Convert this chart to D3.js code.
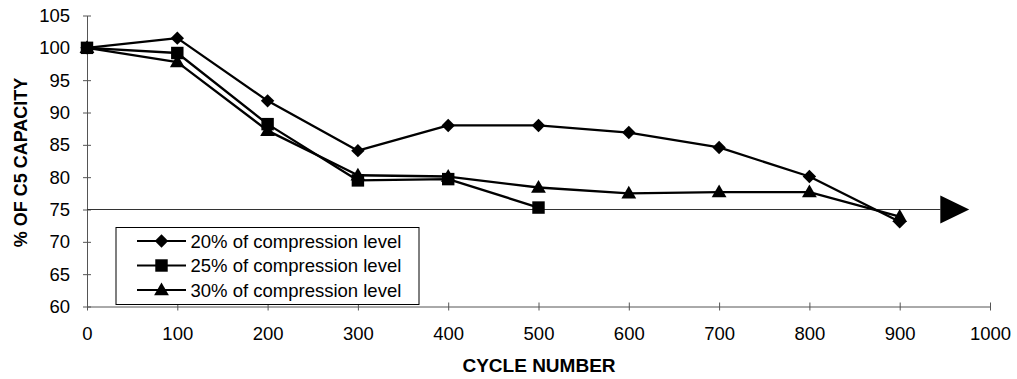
<!DOCTYPE html>
<html>
<head>
<meta charset="utf-8">
<script src="https://cdn.jsdelivr.net/npm/d3@7"></script>
<style>
  html, body { margin: 0; padding: 0; background: #fff; }
  svg { display: block; font-family: "Liberation Sans", Arial, sans-serif; }
</style>
</head>
<body>
<svg id="chart" width="1017" height="379"></svg>
<script>
const cycles = [0, 100, 200, 300, 400, 500, 600, 700, 800, 900];
const s20 = [100, 101.5, 91.8, 84.1, 88.0, 88.0, 86.9, 84.6, 80.1, 73.1];
const s25 = [100, 99.2, 88.2, 79.5, 79.7, 75.3];
const s30 = [100, 97.8, 87.2, 80.3, 80.1, 78.4, 77.5, 77.7, 77.7, 73.9];
const seriesNames = ["20% of compression level", "25% of compression level", "30% of compression level"];
const seriesSymbols = ["diamond", "square", "triangle"];
const xTicks = [0, 100, 200, 300, 400, 500, 600, 700, 800, 900, 1000];
const yTicks = [60, 65, 70, 75, 80, 85, 90, 95, 100, 105];
const refLevel = 75;
const arrowBase = 945, arrowTip = 977;

const svg = d3.select("#chart");
const x = d3.scaleLinear().domain([0, 1000]).range([87, 990]);
const y = d3.scaleLinear().domain([60, 105]).range([306.5, 15.5]);

// axes
const yAxis = svg.append("g").attr("transform", `translate(${x(0)},0)`)
  .call(d3.axisLeft(y).tickValues(yTicks).tickFormat(d3.format("d")).tickSize(4).tickSizeOuter(0).tickPadding(13));
yAxis.select(".domain").attr("stroke", "#555");
yAxis.selectAll(".tick line").attr("x1", 4).attr("x2", -4).attr("stroke", "#555");
yAxis.selectAll(".tick text").attr("font-size", 18.5).attr("fill", "#000")
  .attr("font-family", "Liberation Sans, Arial, sans-serif");

const xAxis = svg.append("g").attr("transform", `translate(0,${y(60)})`)
  .call(d3.axisBottom(x).tickValues(xTicks).tickFormat(d3.format("d")).tickSize(4).tickSizeOuter(0).tickPadding(16.5));
xAxis.select(".domain").attr("stroke", "#555");
xAxis.selectAll(".tick line").attr("y1", -4).attr("y2", 4).attr("stroke", "#555");
xAxis.selectAll(".tick text").attr("font-size", 18.5).attr("fill", "#000")
  .attr("font-family", "Liberation Sans, Arial, sans-serif");

// axis titles
svg.append("text").attr("x", 539).attr("y", 371.5).attr("text-anchor", "middle")
  .attr("font-size", 19).attr("font-weight", "bold").text("CYCLE NUMBER");
svg.append("text").attr("transform", `translate(27,162.5) rotate(-90)`)
  .attr("text-anchor", "middle").attr("font-size", 18).attr("font-weight", "bold")
  .text("% OF C5 CAPACITY");

// reference line with arrow
svg.append("line").attr("x1", x(0)).attr("x2", x(arrowBase))
  .attr("y1", y(refLevel)).attr("y2", y(refLevel))
  .attr("stroke", "#333").attr("stroke-width", 1);
svg.append("path")
  .attr("d", `M${x(arrowBase)},${y(refLevel) - 14}L${x(arrowTip)},${y(refLevel)}L${x(arrowBase)},${y(refLevel) + 14}Z`)
  .attr("fill", "#000");

// series
const symbolMap = {
  diamond: d3.symbol().type(d3.symbolSquare).size(90),
  square: d3.symbol().type(d3.symbolSquare).size(155),
  triangle: d3.symbol().type(d3.symbolTriangle).size(95)
};
function symbolPath(kind) { return symbolMap[kind](); }
function symbolTransform(kind, px, py) {
  if (kind === "diamond") return `translate(${px},${py}) rotate(45)`;
  if (kind === "triangle") return `translate(${px},${py + 1})`;
  return `translate(${px},${py})`;
}

const allSeries = [s20, s25, s30];
const line = d3.line().x(d => x(d[0])).y(d => y(d[1]));
allSeries.forEach((vals, i) => {
  const pts = vals.map((v, j) => [cycles[j], v]);
  svg.append("path").datum(pts).attr("d", line)
    .attr("fill", "none").attr("stroke", "#000").attr("stroke-width", 2.3)
    .attr("stroke-linejoin", "round");
});
allSeries.forEach((vals, i) => {
  const kind = seriesSymbols[i];
  vals.forEach((v, j) => {
    svg.append("path").attr("d", symbolPath(kind))
      .attr("transform", symbolTransform(kind, x(cycles[j]), y(v)))
      .attr("fill", "#000");
  });
});

// legend
const lg = svg.append("g");
lg.append("rect").attr("x", 116).attr("y", 227.5).attr("width", 303).attr("height", 77)
  .attr("fill", "#fff").attr("stroke", "#000").attr("stroke-width", 1);
seriesNames.forEach((name, i) => {
  const cy = 241 + i * 24.5;
  lg.append("line").attr("x1", 137).attr("x2", 186).attr("y1", cy).attr("y2", cy)
    .attr("stroke", "#000").attr("stroke-width", 2);
  lg.append("path").attr("d", symbolPath(seriesSymbols[i]))
    .attr("transform", symbolTransform(seriesSymbols[i], 161.5, cy)).attr("fill", "#000");
  lg.append("text").attr("x", 190.5).attr("y", cy + 6.5).attr("font-size", 18.5).text(name);
});
</script>
</body>
</html>
